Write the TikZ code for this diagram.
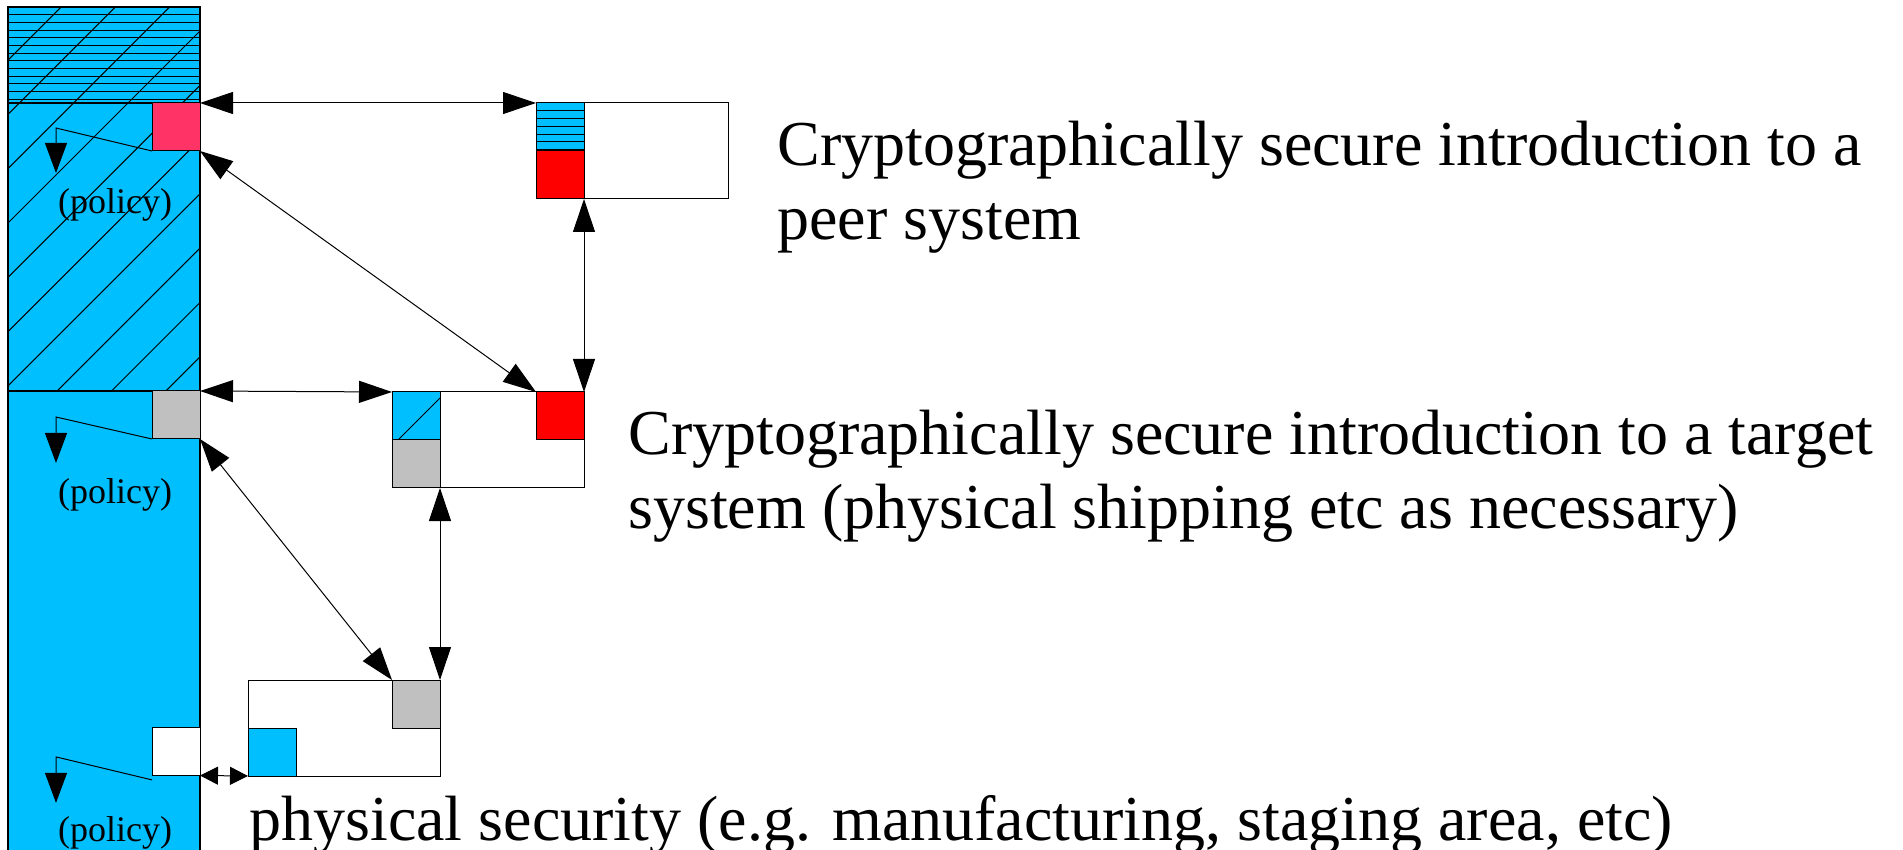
\documentclass[tikz,border=0pt]{standalone}
\usepackage{fontspec}
\setmainfont{Liberation Serif}
\usetikzlibrary{arrows.meta}
\definecolor{skyb}{HTML}{00BFFF}
\definecolor{rose}{HTML}{FF3366}
\definecolor{redbox}{HTML}{FF0000}
\definecolor{silver}{HTML}{C0C0C0}

\begin{document}
\begin{tikzpicture}[x=0.5pt, y=-0.5pt,
  cell/.style={draw=black, line width=0.5pt, minimum size=24pt, inner sep=0pt, outer sep=0pt},
  boxframe/.style={draw=black, fill=white, line width=0.5pt, minimum width=96pt, minimum height=48pt, inner sep=0pt, outer sep=0pt},
  link/.style={line width=0.5pt, {Triangle[length=16.5pt,width=11pt]}-{Triangle[length=16.5pt,width=11pt]}},
  shortlink/.style={line width=0.5pt, {Triangle[length=9pt,width=9pt]}-{Triangle[length=9pt,width=9pt]}},
  policyarrow/.style={line width=0.5pt, -{Triangle[length=15pt,width=11pt]}},
  hatchline/.style={line width=0.5pt},
  policylabel/.style={font=\fontsize{18}{20}\selectfont, anchor=base, inner sep=0pt},
  desc/.style={font=\fontsize{32}{37}\selectfont, anchor=base west, align=left, inner sep=0pt}
]
\useasboundingbox (0,0) rectangle (1903,850);

% ---- left column ----
\fill[skyb] (8,7) rectangle (200,852);
\begin{scope}
  \clip (8,7) rectangle (200,103);
  \foreach \i in {0,...,12}
    \draw[hatchline] (8,7.3+7.67*\i) -- (200,7.3+7.67*\i);
\end{scope}
\begin{scope}
  \clip (8,7) rectangle (200,391);
  \foreach \k in {-4,...,6} {
    \pgfmathsetmacro\c{231+54.3*\k}
    \draw[hatchline] (\c-420,420) -- (\c,0);
  }
\end{scope}
\draw[line width=0.6pt] (8,852) -- (8,7) -- (200,7) -- (200,852);
\draw[line width=0.6pt] (8,103) -- (200,103);
\draw[line width=0.6pt] (8,391) -- (200,391);

% ---- cells on the column ----
\node[cell, fill=rose] (pk) at (176,127) {};
\node[cell, fill=silver] (g1) at (176,415) {};
\node[cell, fill=white] (w1) at (176,751.5) {};

% ---- peer box ----
\node[boxframe] (tb) at (632,151) {};
\node[cell, fill=skyb] (tbl) at (560,127) {};
\foreach \i in {1,...,6}
  \draw[hatchline] (536,103+7.8*\i) -- (584,103+7.8*\i);
\node[cell, fill=redbox] (tbr) at (560,175) {};

% ---- target box ----
\node[boxframe] (mb) at (488,440) {};
\node[cell, fill=skyb] (mbb) at (416,416) {};
\draw[hatchline] (398,440) -- (440,398);
\node[cell, fill=silver] (mbg) at (416,464) {};
\node[cell, fill=redbox] (mbr) at (560,416) {};

% ---- physical box ----
\node[boxframe] (bb) at (344,728) {};
\node[cell, fill=silver] (bbg) at (416,704) {};
\node[cell, fill=skyb] (bbb) at (272,752) {};

% ---- policy arrows ----
\draw[policyarrow] (pk.south west) -- ++(-96,-23) -- ++(0,45);
\draw[policyarrow] (g1.south west) -- ++(-96,-22) -- ++(0,46);
\draw[policyarrow] ([yshift=-2.2pt]w1.south west) -- ++(-96,-23) -- ++(0,46);
\node[policylabel] (p1) at (115,214) {(policy)};
\node[policylabel] (p2) at (115,503) {(policy)};
\node[policylabel] (p3) at (115,841) {(policy)};

% ---- links ----
\draw[link] (pk.north east) -- (tbl.north west);
\draw[link] (pk.south east) -- (mbr.north west);
\draw[link] (tbr.south east) -- (mbr.north east);
\draw[link] (g1.north east) -- (mbb.north west);
\draw[link] (g1.south east) -- (bbg.north west);
\draw[link] (mbg.south east) -- (bbg.north east);
\draw[shortlink] (w1.south east) -- (bbb.south west);

% ---- descriptions (base anchor sits on the last line) ----
\node[desc] (d1) at (777,240) {Cryptographically secure introduction to a\\peer system};
\node[desc] (d2) at (628,529) {Cryptographically secure introduction to a target\\system (physical shipping etc as necessary)};
\node[desc] (d3) at (249,840) {physical security (e.g. manufacturing, staging area, etc)};
\end{tikzpicture}
\end{document}
